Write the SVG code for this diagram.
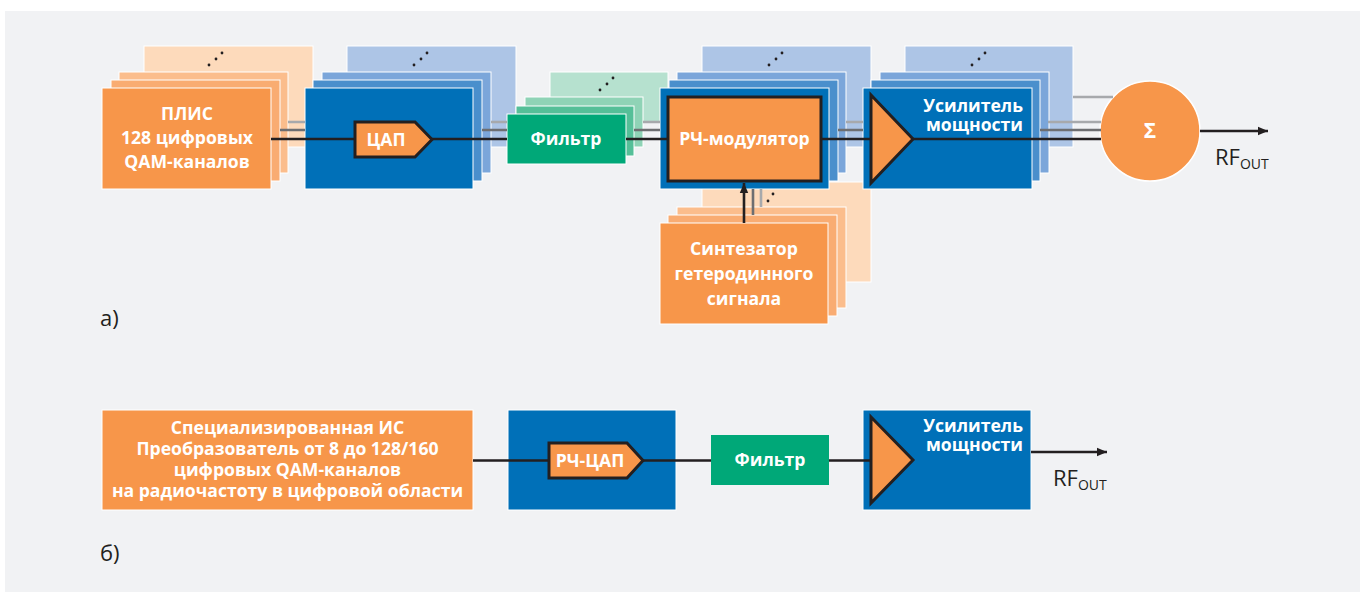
<svg xmlns="http://www.w3.org/2000/svg" width="1365" height="596" viewBox="0 0 1365 596">
<defs>
<style>
.o0{fill:#f7964a}.o1{fill:#f9ac72}.o2{fill:#fbbd8c}.o3{fill:#fddabb}
.b0{fill:#0070b8}.b1{fill:#4a8fcc}.b2{fill:#7ba6da}.b3{fill:#adc5e6}
.g0{fill:#00a878}.g1{fill:#55bf98}.g2{fill:#8fd3b6}.g3{fill:#b6e1cf}
.lay{stroke:#fff;stroke-width:1}
.t{font-family:"Open Sans","Noto Sans",sans-serif;font-weight:700;fill:#fff;font-size:17.6px;text-anchor:middle}
.tr{text-anchor:end}
.dot{fill:#231f20}
.sym{fill:#f7964a;stroke:#231f20;stroke-width:3;stroke-linejoin:miter}
.k{stroke:#231f20;stroke-width:2.6;fill:none}
.dg{stroke:#6d6e71;stroke-width:2.6;fill:none}
.lg{stroke:#a7a9ac;stroke-width:2.6;fill:none}
.lab{font-family:"Open Sans","Noto Sans",sans-serif;fill:#231f20;font-size:22px}
.rf{font-family:"Open Sans","Noto Sans",sans-serif;fill:#231f20;font-size:22px}
</style>
<marker id="ah" viewBox="0 0 10 10" refX="10" refY="5" markerWidth="10" markerHeight="10" markerUnits="userSpaceOnUse" orient="auto">
<path d="M0,0.8 L10,5 L0,9.2 Z" fill="#231f20"/>
</marker>
</defs>
<rect x="0" y="0" width="1365" height="596" fill="#ffffff"/>
<rect x="5" y="11" width="1355" height="581" fill="#f1f2f4"/>

<g id="fpga">
<rect class="o3 lay" x="144" y="46" width="169" height="101"/>
<circle class="dot" cx="209" cy="65" r="1.4"/><circle class="dot" cx="216" cy="59" r="1.4"/><circle class="dot" cx="222" cy="53" r="1.4"/>
<rect class="o2 lay" x="119" y="72" width="169" height="101"/>
<rect class="o1 lay" x="111" y="80" width="169" height="101"/>
<rect class="o0 lay" x="102" y="88" width="169" height="101"/>
<text class="t" x="187" y="120">ПЛИС<tspan x="187" dy="24">128 цифровых</tspan><tspan x="187" dy="24">QAM-каналов</tspan></text>
</g>

<g id="dac">
<rect class="b3 lay" x="347" y="46" width="169" height="101"/>
<circle class="dot" cx="414" cy="65" r="1.4"/><circle class="dot" cx="421" cy="59" r="1.4"/><circle class="dot" cx="427" cy="53" r="1.4"/>
<rect class="b2 lay" x="322" y="72" width="169" height="101"/>
<rect class="b1 lay" x="313" y="80" width="169" height="101"/>
<rect class="b0 lay" x="305" y="88" width="168" height="101"/>
</g>

<g id="filter">
<rect class="g3 lay" x="550" y="72" width="118" height="50"/>
<circle class="dot" cx="600" cy="90" r="1.4"/><circle class="dot" cx="607" cy="84" r="1.4"/><circle class="dot" cx="613" cy="78" r="1.4"/>
<rect class="g2 lay" x="525" y="97" width="118" height="50"/>
<rect class="g1 lay" x="516" y="106" width="118" height="50"/>
<rect class="g0 lay" x="507" y="114" width="119" height="50"/>
<text class="t" x="566" y="145">Фильтр</text>
</g>

<g id="synth">
<rect class="o3 lay" x="702" y="182" width="169" height="100"/>
<circle class="dot" cx="773" cy="194" r="1.4"/><circle class="dot" cx="768" cy="201" r="1.4"/>
<rect class="o2 lay" x="677" y="207" width="169" height="101"/>
<rect class="o1 lay" x="668" y="215" width="169" height="101"/>
<rect class="o0 lay" x="660" y="223" width="168" height="101"/>
<text class="t" x="744" y="255">Синтезатор<tspan x="744" dy="25">гетеродинного</tspan><tspan x="744" dy="25">сигнала</tspan></text>
</g>

<g id="rfmod">
<rect class="b3 lay" x="702" y="46" width="169" height="101"/>
<circle class="dot" cx="769" cy="65" r="1.4"/><circle class="dot" cx="776" cy="59" r="1.4"/><circle class="dot" cx="782" cy="53" r="1.4"/>
<rect class="b2 lay" x="677" y="72" width="169" height="101"/>
<rect class="b1 lay" x="669" y="80" width="169" height="101"/>
<rect class="b0 lay" x="660" y="88" width="169" height="101"/>
<rect class="sym" x="668" y="97" width="153" height="84"/>
<text class="t" x="744.5" y="145">РЧ-модулятор</text>
</g>

<g id="amp">
<rect class="b3 lay" x="905" y="46" width="168" height="101"/>
<circle class="dot" cx="972" cy="65" r="1.4"/><circle class="dot" cx="979" cy="59" r="1.4"/><circle class="dot" cx="985" cy="53" r="1.4"/>
<rect class="b2 lay" x="880" y="72" width="169" height="101"/>
<rect class="b1 lay" x="871" y="80" width="169" height="101"/>
<rect class="b0 lay" x="863" y="88" width="169" height="101"/>
<polygon class="sym" points="871,95 913,139 871,183"/>
<text class="t tr" x="1023" y="112">Усилитель<tspan x="1023" dy="19">мощности</tspan></text>
</g>

<g id="sum">
<circle cx="1150" cy="131" r="50" fill="#f7964a" stroke="#fff" stroke-width="1.5"/>
<text class="t" x="1150" y="138" style="font-size:21px">Σ</text>
</g>

<g id="asic">
<rect class="o0 lay" x="102" y="410" width="371" height="100"/>
<text class="t" x="287.5" y="434">Специализированная ИС<tspan x="287.5" dy="21">Преобразователь от 8 до 128/160</tspan><tspan x="287.5" dy="21">цифровых QAM-каналов</tspan><tspan x="287.5" dy="21">на радиочастоту в цифровой области</tspan></text>
</g>

<g id="rfdac-box">
<rect class="b0 lay" x="508" y="410" width="168" height="100"/>
</g>

<g id="filter2">
<rect class="g0" x="711" y="435" width="118" height="50"/>
<text class="t" x="770" y="466">Фильтр</text>
</g>

<g id="amp2">
<rect class="b0 lay" x="863" y="410" width="168" height="100"/>
<polygon class="sym" points="871,417 913,460 871,503"/>
<text class="t tr" x="1023" y="432">Усилитель<tspan x="1023" dy="19">мощности</tspan></text>
</g>

<g id="connectors">
<path class="lg" d="M288,122H305 M491,122H507 M643,122H660 M846,122H863 M1048,122H1101 M1073,97H1113"/>
<path class="dg" d="M280,130H305 M482,130H507 M634,130H660 M838,130H863 M1040,130H1101"/>
<path class="dg" d="M753,189V215"/>
<path class="lg" d="M761,189V207"/>
<path class="k" d="M271,139H356 M432,139H507 M626,139H668 M821,139H871 M913,139H1101"/>
<path class="k" d="M744,223V183" marker-end="url(#ah)"/>
<path class="k" d="M1200,131H1268" marker-end="url(#ah)"/>
<path class="k" d="M473,460.5H549 M643,460.5H711 M829,460.5H871"/>
<path class="k" d="M1031,452H1107" marker-end="url(#ah)"/>
</g>

<g id="dac-core">
<polygon class="sym" points="355,122 415,122 432,139.5 415,157 355,157"/>
<text class="t" x="386" y="145.5">ЦАП</text>
</g>

<g id="rfdac">
<polygon class="sym" points="549,443 627,443 643,460.5 627,478 549,478"/>
<text class="t" x="590" y="466.5">РЧ-ЦАП</text>
</g>

<text class="rf" x="1215" y="165">RF<tspan font-size="14" dy="4">OUT</tspan></text>
<text class="rf" x="1053" y="486">RF<tspan font-size="14" dy="4">OUT</tspan></text>
<text class="lab" x="100" y="326">а)</text>
<text class="lab" x="100" y="561">б)</text>
</svg>
